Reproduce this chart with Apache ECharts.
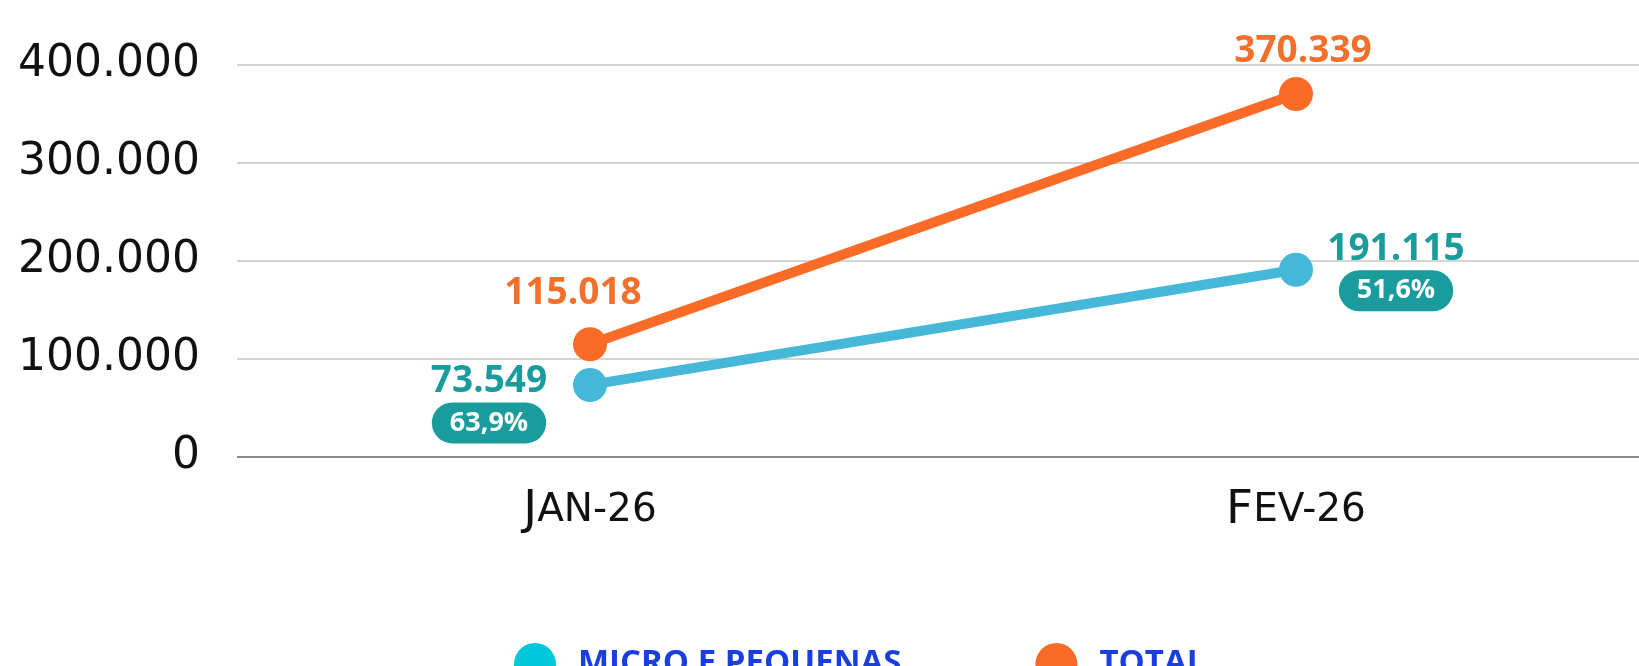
<!DOCTYPE html>
<html>
<head>
<meta charset="utf-8">
<script src="https://cdn.jsdelivr.net/npm/echarts@6/dist/echarts.min.js"></script>
<style>
  html, body { margin: 0; padding: 0; background: #fff; }
  #chart { width: 1639px; height: 666px; }
</style>
</head>
<body>
<div id="chart"></div>
<script>
// dados
const categories = ["Jan-26", "Fev-26"];
const microValues = [73549, 191115];
const totalValues = [115018, 370339];
const microShare = ["63,9%", "51,6%"];
const yTicks = [0, 100000, 200000, 300000, 400000];

const fmt = (v) => String(v).replace(/\B(?=(\d{3})+(?!\d))/g, ".");

const chart = echarts.init(document.getElementById("chart"));

// posição dos rótulos (offset relativo ao ponto)
const microOffsets = [[-101, 13], [100, -4]];
const totalOffsets = [[-17, -51], [7, -43]];

const option = {
  animation: false,
  grid: {
    left: 237,
    width: 1412,
    top: 65,
    bottom: 209,
    containLabel: false,
    outerBoundsMode: "none",
  },
  legend: {
    top: 638,
    left: 509,
    itemWidth: 42,
    itemHeight: 42,
    itemGap: 134,
    icon: "circle",
    data: [
      { name: "MICRO E PEQUENAS", itemStyle: { color: "#00C8DC" } },
      { name: "TOTAL", itemStyle: { color: "#F96B26" } },
    ],
    textStyle: {
      fontFamily: "Open Sans",
      fontWeight: "bold",
      fontSize: 33,
      color: "#1A3FE0",
      padding: [0, 0, 0, 17],
    },
  },
  xAxis: {
    type: "category",
    data: categories,
    axisLine: { show: false },
    axisTick: { show: false },
    axisLabel: {
      margin: 30,
      formatter: (v) => {
        const up = v.toUpperCase();
        return `{b|${up[0]}}{s|${up.slice(1)}}`;
      },
      rich: {
        b: { fontFamily: "DejaVu Sans", fontSize: 47, color: "#111" },
        s: { fontFamily: "DejaVu Sans", fontSize: 39, color: "#111" },
      },
    },
  },
  yAxis: {
    type: "value",
    min: 0,
    max: 400000,
    interval: 100000,
    axisLine: { show: false },
    axisTick: { show: false },
    splitLine: {
      lineStyle: { color: "#c6c6c6", width: 1.5 },
    },
    axisLabel: {
      margin: 37,
      fontFamily: "DejaVu Sans",
      fontSize: 44,
      color: "#111",
      formatter: (v) => (yTicks.includes(v) ? fmt(v) : ""),
    },
  },
  series: [
    {
      name: "MICRO E PEQUENAS",
      type: "line",
      z: 3,
      symbol: "circle",
      symbolSize: 34,
      lineStyle: { color: "#45B8D8", width: 10 },
      itemStyle: { color: "#45B8D8" },
      data: microValues.map((v, i) => ({
        value: v,
        label: {
          show: true,
          position: "inside",
          offset: microOffsets[i],
          formatter: `{v|${fmt(v)}}\n{p|${microShare[i]}}`,
          rich: {
            v: {
              fontFamily: "Open Sans",
              fontWeight: "bold",
              fontSize: 37,
              color: "#1A9C9C",
              lineHeight: 50,
              align: "center",
            },
            p: {
              fontFamily: "Open Sans",
              fontWeight: "bold",
              fontSize: 27,
              color: "#fff",
              backgroundColor: "#1A9C9C",
              borderRadius: 23,
              padding: [7, 18],
              lineHeight: 32,
              align: "center",
            },
          },
        },
      })),
    },
    {
      name: "TOTAL",
      type: "line",
      z: 4,
      symbol: "circle",
      symbolSize: 34,
      lineStyle: { color: "#F96B26", width: 10 },
      itemStyle: { color: "#F96B26" },
      data: totalValues.map((v, i) => ({
        value: v,
        label: {
          show: true,
          position: "inside",
          offset: totalOffsets[i],
          formatter: fmt(v),
          fontFamily: "Open Sans",
          fontWeight: "bold",
          fontSize: 37,
          color: "#F2702B",
        },
      })),
    },
  ],
};

chart.setOption(option);

// linha do eixo zero um pouco mais escura
const zeroY = chart.convertToPixel({ yAxisIndex: 0 }, 0);
chart.setOption({
  graphic: [{
    type: "line",
    shape: { x1: 237, y1: zeroY, x2: 1639, y2: zeroY },
    style: { stroke: "#8a8a8a", lineWidth: 2 },
    z: 1,
  }],
});
</script>
</body>
</html>
